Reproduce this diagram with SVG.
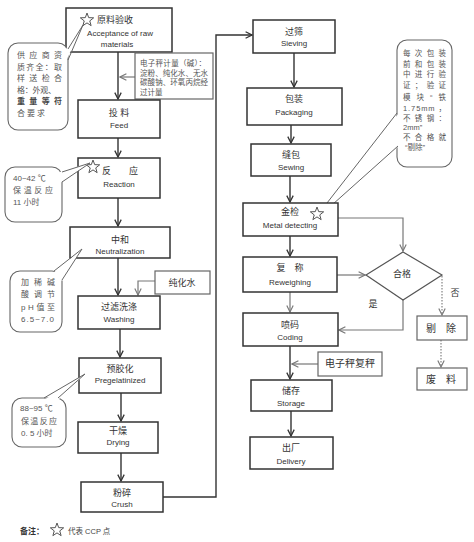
<svg xmlns="http://www.w3.org/2000/svg" xmlns:xlink="http://www.w3.org/1999/xlink" width="474" height="542" viewBox="0 0 474 542">
<style>
text{font-family:"Liberation Sans","Noto Sans CJK SC",sans-serif;fill:#333}
.zh{font-size:9px}
.en{font-size:8px}
.box{fill:#fff;stroke:#333;stroke-width:1.5}
.gbox{fill:#fff;stroke:#666;stroke-width:1.2}
.co{fill:#fff;stroke:#666;stroke-width:1.1}
.ct{font-size:8px;fill:#555}
.st{font-size:7.5px;fill:#555}
.ln{fill:none;stroke:#333;stroke-width:1.4}
.gl{fill:none;stroke:#777;stroke-width:1.2}
.dl{fill:none;stroke:#777;stroke-width:1.1;stroke-dasharray:1.5 1.5}
.wl{fill:none;stroke:#666;stroke-width:1}
</style>
<defs>
<marker id="ah" viewBox="0 0 10 10" refX="9" refY="5" markerWidth="8" markerHeight="8" orient="auto" markerUnits="userSpaceOnUse"><path d="M1,1 L9,5 L1,9" fill="none" stroke="#333" stroke-width="1.6"/></marker>
<marker id="ag" viewBox="0 0 10 10" refX="9" refY="5" markerWidth="8" markerHeight="8" orient="auto" markerUnits="userSpaceOnUse"><path d="M1,1 L9,5 L1,9" fill="none" stroke="#777" stroke-width="1.4"/></marker>
<path id="star" d="M0,-7 L1.7,-2.35 L6.66,-2.16 L2.76,0.9 L4.11,5.66 L0,2.9 L-4.11,5.66 L-2.76,0.9 L-6.66,-2.16 L-1.7,-2.35 Z" fill="#fff" stroke="#555" stroke-width="1"/>
</defs>

<g id="connectors">
<line class="ln" x1="118" y1="52" x2="118" y2="99" marker-end="url(#ah)"/>
<line class="gl" x1="135" y1="77" x2="120" y2="77" marker-end="url(#ag)"/>
<line class="ln" x1="118" y1="138" x2="118" y2="157" marker-end="url(#ah)"/>
<line class="ln" x1="118" y1="198" x2="118" y2="226" marker-end="url(#ah)"/>
<line class="ln" x1="118" y1="258" x2="118" y2="295" marker-end="url(#ah)"/>
<polyline class="gl" points="155,281 138,281 138,295" marker-end="url(#ag)"/>
<line class="ln" x1="120" y1="329" x2="120" y2="357" marker-end="url(#ah)"/>
<line class="ln" x1="121" y1="393" x2="121" y2="421" marker-end="url(#ah)"/>
<line class="ln" x1="121" y1="453" x2="121" y2="481" marker-end="url(#ah)"/>
<polyline class="ln" points="163,497 216,497 216,35 252,35" marker-end="url(#ah)"/>
<line class="ln" x1="294" y1="53" x2="294" y2="87" marker-end="url(#ah)"/>
<line class="ln" x1="291" y1="125" x2="291" y2="143" marker-end="url(#ah)"/>
<line class="ln" x1="290" y1="176" x2="290" y2="202" marker-end="url(#ah)"/>
<line class="ln" x1="290" y1="236" x2="290" y2="256" marker-end="url(#ah)"/>
<polyline class="gl" points="338,218 403,218 403,251" marker-end="url(#ag)"/>
<line class="gl" x1="337" y1="275" x2="365" y2="275" marker-end="url(#ag)"/>
<line class="gl" x1="290" y1="292" x2="290" y2="312" marker-end="url(#ag)"/>
<polyline class="gl" points="403,300 403,330 339,330" marker-end="url(#ag)"/>
<line class="dl" x1="442" y1="276" x2="442" y2="315" marker-end="url(#ag)"/>
<line class="dl" x1="441" y1="340" x2="441" y2="367" marker-end="url(#ag)"/>
<line class="ln" x1="290" y1="346" x2="290" y2="379" marker-end="url(#ah)"/>
<line class="gl" x1="318" y1="364" x2="292" y2="364" marker-end="url(#ag)"/>
<line class="ln" x1="291" y1="411" x2="291" y2="436" marker-end="url(#ah)"/>
</g>

<g id="n-accept">
<rect class="box" x="66" y="8" width="106" height="44"/>
<use xlink:href="#star" x="87" y="20"/>
<text class="zh" x="115" y="23" text-anchor="middle">原料验收</text>
<text class="en" x="120" y="36" text-anchor="middle">Acceptance of raw</text>
<text class="en" x="117" y="47" text-anchor="middle">materials</text>
</g>

<g id="c-supplier">
<rect class="co" x="8" y="43" width="60" height="87" rx="10"/>
<polygon points="66,49 83,25 66,61" fill="#fff"/>
<line class="wl" x1="68" y1="49" x2="83" y2="25"/>
<line class="wl" x1="68" y1="60" x2="83" y2="25"/>
<text class="ct" x="17" y="58" textLength="45" lengthAdjust="spacing">供应商资</text>
<text class="ct" x="17" y="69.5" textLength="45" lengthAdjust="spacing">质齐全：取</text>
<text class="ct" x="17" y="81" textLength="45" lengthAdjust="spacing">样送检合</text>
<text class="ct" x="17" y="92.5" textLength="39" lengthAdjust="spacing">格：外观、</text>
<text class="ct" x="17" y="104" textLength="45" lengthAdjust="spacing" style="font-weight:bold;fill:#444">重量等符</text>
<text class="ct" x="17" y="115.5" textLength="28" lengthAdjust="spacing">合要求</text>
</g>

<g id="n-scale">
<rect class="gbox" x="135" y="53" width="78" height="46"/>
<text class="st" x="140" y="66" textLength="66" lengthAdjust="spacing">电子秤计量（碱）：</text>
<text class="st" x="140" y="75.5" textLength="68" lengthAdjust="spacing">淀粉、纯化水、无水</text>
<text class="st" x="140" y="85" textLength="68" lengthAdjust="spacing">碳酸钠、环氧丙烷经</text>
<text class="st" x="140" y="94.5">过计量</text>
</g>

<g id="n-feed">
<rect class="box" x="78" y="100" width="82" height="38"/>
<text class="zh" x="119" y="116" text-anchor="middle">投 料</text>
<text class="en" x="119" y="128" text-anchor="middle">Feed</text>
</g>

<g id="n-reaction">
<rect class="box" x="78" y="158" width="82" height="40"/>
<use xlink:href="#star" x="93" y="167"/>
<text class="zh" x="120" y="174" text-anchor="middle">反　　应</text>
<text class="en" x="119" y="187" text-anchor="middle">Reaction</text>
</g>

<g id="c-reaction">
<rect class="co" x="5" y="167" width="57" height="55" rx="10"/>
<polygon points="60,172 90,163 60,183" fill="#fff"/>
<line class="wl" x1="62" y1="172" x2="90" y2="163"/>
<line class="wl" x1="62" y1="182" x2="90" y2="163"/>
<text class="ct" x="13" y="181">40~42 ℃</text>
<text class="ct" x="13" y="193" textLength="40" lengthAdjust="spacing">保温反应</text>
<text class="ct" x="13" y="205">11 小时</text>
</g>

<g id="n-neutral">
<rect class="box" x="70" y="227" width="100" height="31"/>
<text class="zh" x="120" y="243" text-anchor="middle">中和</text>
<text class="en" x="120" y="254" text-anchor="middle">Neutralization</text>
</g>

<g id="c-neutral">
<rect class="co" x="10" y="271" width="52" height="61" rx="10"/>
<polygon points="53,273 82,249 62,281" fill="#fff"/>
<line class="wl" x1="54" y1="271" x2="82" y2="249"/>
<line class="wl" x1="62" y1="280" x2="82" y2="249"/>
<text class="ct" x="21" y="285" textLength="34" lengthAdjust="spacing">加稀碱</text>
<text class="ct" x="21" y="297" textLength="34" lengthAdjust="spacing">酸调节</text>
<text class="ct" x="21" y="310" textLength="34" lengthAdjust="spacing">pH值至</text>
<text class="ct" x="21" y="322" textLength="33" lengthAdjust="spacing">6.5~7.0</text>
</g>

<g id="n-water">
<rect class="gbox" x="155" y="271" width="55" height="23"/>
<text class="zh" x="182" y="286" text-anchor="middle">纯化水</text>
</g>

<g id="n-washing">
<rect class="box" x="78" y="296" width="82" height="33"/>
<text class="zh" x="119" y="310" text-anchor="middle">过滤洗涤</text>
<text class="en" x="119" y="322" text-anchor="middle">Washing</text>
</g>

<g id="n-pregel">
<rect class="box" x="79" y="358" width="82" height="35"/>
<text class="zh" x="120" y="372" text-anchor="middle">预胶化</text>
<text class="en" x="120" y="383" text-anchor="middle">Pregelatinized</text>
</g>

<g id="c-pregel">
<rect class="co" x="12" y="398" width="54" height="49" rx="10"/>
<polygon points="44,400 85,374 58,400" fill="#fff"/>
<line class="wl" x1="44" y1="398" x2="85" y2="374"/>
<line class="wl" x1="58" y1="398" x2="85" y2="374"/>
<text class="ct" x="20" y="411">88~95 ℃</text>
<text class="ct" x="21" y="424" textLength="36" lengthAdjust="spacing">保温反应</text>
<text class="ct" x="21" y="436">0. 5 小时</text>
</g>

<g id="n-drying">
<rect class="box" x="78" y="422" width="80" height="31"/>
<text class="zh" x="118" y="434" text-anchor="middle">干燥</text>
<text class="en" x="118" y="445" text-anchor="middle">Drying</text>
</g>

<g id="n-crush">
<rect class="box" x="81" y="482" width="82" height="30"/>
<text class="zh" x="122" y="496" text-anchor="middle">粉碎</text>
<text class="en" x="122" y="507" text-anchor="middle">Crush</text>
</g>

<g id="legend">
<text x="20" y="534" style="font-size:8px;font-weight:bold">备注：</text>
<use xlink:href="#star" x="57" y="530"/>
<text x="68" y="534" style="font-size:7.5px;fill:#444">代表 CCP 点</text>
</g>

<g id="n-sieving">
<rect class="box" x="253" y="20" width="82" height="33"/>
<text class="zh" x="294" y="35" text-anchor="middle">过筛</text>
<text class="en" x="294" y="46" text-anchor="middle">Sieving</text>
</g>

<g id="n-packaging">
<rect class="box" x="247" y="88" width="95" height="37"/>
<text class="zh" x="294" y="102" text-anchor="middle">包装</text>
<text class="en" x="294" y="115" text-anchor="middle">Packaging</text>
</g>

<g id="c-metal">
<rect class="co" x="397" y="40" width="55" height="127" rx="10"/>
<polygon points="399,113 320,212 322,213 399,146" fill="#fff"/>
<line class="wl" x1="397" y1="113" x2="320" y2="212"/>
<line class="wl" x1="398" y1="146" x2="323" y2="213"/>
<text class="st" x="403" y="56" textLength="43" lengthAdjust="spacing">每次包装</text>
<text class="st" x="403" y="66.5" textLength="43" lengthAdjust="spacing">前和包装</text>
<text class="st" x="403" y="77" textLength="43" lengthAdjust="spacing">中进行验</text>
<text class="st" x="403" y="88" textLength="43" lengthAdjust="spacing">证；验证</text>
<text class="st" x="403" y="100" textLength="43" lengthAdjust="spacing">模块“铁</text>
<text class="st" x="403" y="111" textLength="43" lengthAdjust="spacing">1.75mm ，</text>
<text class="st" x="403" y="121" textLength="43" lengthAdjust="spacing">不锈钢：</text>
<text class="st" x="403" y="130">2mm”</text>
<text class="st" x="403" y="140" textLength="43" lengthAdjust="spacing">不合格就</text>
<text class="st" x="405" y="150">“剔除”</text>
</g>

<g id="n-sewing">
<rect class="box" x="251" y="144" width="80" height="32"/>
<text class="zh" x="291" y="158" text-anchor="middle">缝包</text>
<text class="en" x="291" y="170" text-anchor="middle">Sewing</text>
</g>

<g id="n-metal">
<rect class="box" x="243" y="203" width="95" height="33"/>
<use xlink:href="#star" x="317" y="214"/>
<text class="zh" x="290" y="215" text-anchor="middle">金检</text>
<text class="en" x="290" y="228" text-anchor="middle">Metal detecting</text>
</g>

<g id="n-check">
<polygon points="403,252 442,275 403,300 366,275" fill="#fff" stroke="#555" stroke-width="1.2"/>
<text class="zh" x="402" y="277" text-anchor="middle">合格</text>
<text class="zh" x="373" y="307" text-anchor="middle">是</text>
<text class="zh" x="455" y="296" text-anchor="middle">否</text>
</g>

<g id="n-reweigh">
<rect class="box" x="243" y="257" width="94" height="35"/>
<text class="zh" x="290" y="271" text-anchor="middle">复　称</text>
<text class="en" x="290" y="285" text-anchor="middle">Reweighing</text>
</g>

<g id="n-reject">
<rect class="gbox" x="417" y="316" width="50" height="24"/>
<text x="441" y="332" text-anchor="middle" style="font-size:10px">剔　除</text>
</g>

<g id="n-waste">
<rect class="gbox" x="417" y="368" width="50" height="22"/>
<text x="441" y="383" text-anchor="middle" style="font-size:10px">废　料</text>
</g>

<g id="n-coding">
<rect class="box" x="243" y="313" width="95" height="33"/>
<text class="zh" x="290" y="328" text-anchor="middle">喷码</text>
<text class="en" x="290" y="340" text-anchor="middle">Coding</text>
</g>

<g id="n-rescale">
<rect class="gbox" x="318" y="352" width="64" height="24"/>
<text x="350" y="367" text-anchor="middle" style="font-size:10px">电子秤复秤</text>
</g>

<g id="n-storage">
<rect class="box" x="251" y="380" width="81" height="31"/>
<text class="zh" x="291" y="394" text-anchor="middle">储存</text>
<text class="en" x="291" y="406" text-anchor="middle">Storage</text>
</g>

<g id="n-delivery">
<rect class="box" x="250" y="437" width="83" height="32"/>
<text class="zh" x="291" y="451" text-anchor="middle">出厂</text>
<text class="en" x="291" y="464" text-anchor="middle">Delivery</text>
</g>
</svg>
